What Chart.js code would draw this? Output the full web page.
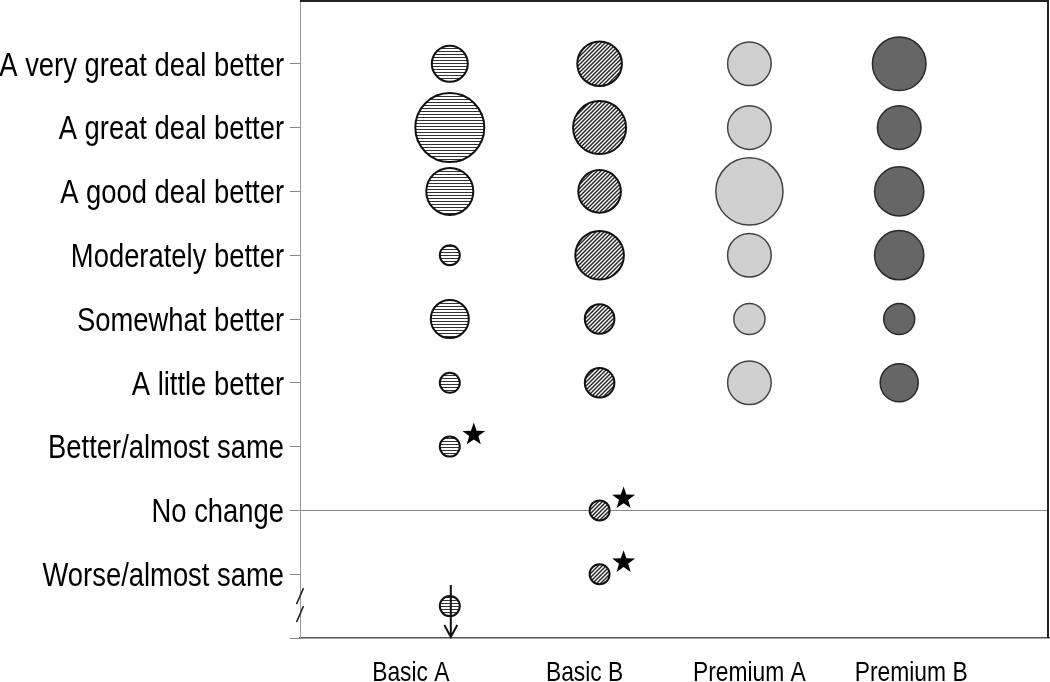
<!DOCTYPE html>
<html>
<head>
<meta charset="utf-8">
<script src="https://cdn.jsdelivr.net/npm/chart.js@4"></script>
<style>
  html, body { margin: 0; padding: 0; background: #fff; }
</style>
</head>
<body>
<canvas id="bubbleChart" width="1050" height="682"></canvas>
<script>
const products = ['Basic A', 'Basic B', 'Premium A', 'Premium B'];
const levels = [
  'A very great deal better',
  'A great deal better',
  'A good deal better',
  'Moderately better',
  'Somewhat better',
  'A little better',
  'Better/almost same',
  'No change',
  'Worse/almost same'
];

// bubble radius for each level, top to bottom (null = no bubble)
const basicA = [18, 34.5, 23.5, 10, 19, 10, 10, null, null];
const basicB = [22.3, 26.5, 21.3, 24.3, 14.8, 14.8, null, 10, 10];
const premiumA = [21.8, 21.8, 33.6, 21.8, 15.6, 21.8, null, null, null];
const premiumB = [26.8, 21.8, 24.6, 24.6, 15.5, 19, null, null, null];
// Basic A has one more bubble below the axis break
const basicABelowBreak = 10;
// [product, level] pairs that get a star
const starred = [[0, 6], [1, 7], [1, 8]];

// narrow sans: Liberation Sans squeezed horizontally (Arial Narrow look)
const FONT = '"Liberation Sans", Arial, sans-serif';
const NARROW = 0.83;
const xLabelAt = [0.74, 1.9, 3.0, 4.08];

const ctx = document.getElementById('bubbleChart').getContext('2d');

function hLines() {
  const c = document.createElement('canvas');
  c.width = 3; c.height = 3;
  const g = c.getContext('2d');
  g.fillStyle = '#fff'; g.fillRect(0, 0, 3, 3);
  g.fillStyle = '#333'; g.fillRect(0, 0, 3, 1);
  return ctx.createPattern(c, 'repeat');
}

function diagLines() {
  const c = document.createElement('canvas');
  c.width = 4; c.height = 4;
  const g = c.getContext('2d');
  g.fillStyle = '#fff'; g.fillRect(0, 0, 4, 4);
  g.strokeStyle = '#222'; g.lineWidth = 1.4;
  g.beginPath();
  g.moveTo(0, 4); g.lineTo(4, 0);
  g.moveTo(-1, 1); g.lineTo(1, -1);
  g.moveTo(3, 5); g.lineTo(5, 3);
  g.stroke();
  return ctx.createPattern(c, 'repeat');
}

function toPoints(sizes, i) {
  const pts = [];
  sizes.forEach((r, j) => { if (r != null) pts.push({ x: i + 1, y: j, r: r }); });
  return pts;
}

const pointsA = toPoints(basicA, 0);
pointsA.push({ x: 1, y: levels.length - 0.5, r: basicABelowBreak });

function drawStar(c, cx, cy, R, r) {
  c.beginPath();
  for (let k = 0; k < 10; k++) {
    const rad = k % 2 === 0 ? R : r;
    const ang = -Math.PI / 2 + k * Math.PI / 5;
    const px = cx + rad * Math.cos(ang), py = cy + rad * Math.sin(ang);
    if (k === 0) c.moveTo(px, py); else c.lineTo(px, py);
  }
  c.closePath();
  c.fillStyle = '#000';
  c.fill();
}

function narrowText(c, text, x, y, size, align) {
  c.save();
  c.translate(x, y);
  c.scale(NARROW, 1);
  c.font = size + 'px ' + FONT;
  c.textAlign = align;
  c.textBaseline = 'alphabetic';
  c.fillStyle = '#000';
  c.fillText(text, 0, 0);
  c.restore();
}

const extras = {
  id: 'extras',
  afterDatasetsDraw(chart) {
    const { ctx: c, chartArea: a, scales: { x, y } } = chart;
    c.save();
    // top and right frame
    c.strokeStyle = '#222';
    c.lineWidth = 2;
    c.beginPath();
    c.moveTo(a.left, a.top + 1);
    c.lineTo(a.right - 1, a.top + 1);
    c.lineTo(a.right - 1, a.bottom);
    c.stroke();

    // stars
    starred.forEach(([p, l]) => {
      drawStar(c, x.getPixelForValue(p + 1) + 24, y.getPixelForValue(l) - 12, 12, 4.8);
    });

    // down arrow through the off-scale bubble
    const ax = x.getPixelForValue(1) + 1;
    const ay = y.getPixelForValue(levels.length - 0.5);
    c.strokeStyle = '#111';
    c.lineWidth = 2;
    c.beginPath();
    c.moveTo(ax, ay - 21);
    c.lineTo(ax, a.bottom - 1);
    c.moveTo(ax - 6.5, a.bottom - 13);
    c.lineTo(ax, a.bottom - 1);
    c.lineTo(ax + 6.5, a.bottom - 13);
    c.stroke();

    // axis break marks
    c.lineWidth = 1.5;
    c.strokeStyle = '#222';
    c.beginPath();
    [-10, 8].forEach(dy => {
      c.moveTo(a.left + 3.5, ay + dy - 8);
      c.lineTo(a.left - 3.5, ay + dy + 8);
    });
    c.stroke();
    c.restore();
  },
  afterDraw(chart) {
    const { ctx: c, chartArea: a, scales: { x, y } } = chart;
    levels.forEach((l, i) => narrowText(c, l, a.left - 16, y.getPixelForValue(i) + 11.8, 33, 'right'));
    products.forEach((p, i) => narrowText(c, p, x.getPixelForValue(xLabelAt[i]), 681, 27.5, 'center'));
  }
};

new Chart(ctx, {
  type: 'bubble',
  data: {
    datasets: [
      { label: products[0], data: pointsA, backgroundColor: hLines(), borderColor: '#111', borderWidth: 2 },
      { label: products[1], data: toPoints(basicB, 1), backgroundColor: diagLines(), borderColor: '#111', borderWidth: 2 },
      { label: products[2], data: toPoints(premiumA, 2), backgroundColor: '#d0d0d0', borderColor: '#444', borderWidth: 1.5 },
      { label: products[3], data: toPoints(premiumB, 3), backgroundColor: '#666666', borderColor: '#2a2a2a', borderWidth: 1.5 }
    ]
  },
  options: {
    responsive: false,
    animation: false,
    layout: { autoPadding: false, padding: { top: 0, right: 1, left: 0, bottom: 0 } },
    plugins: { legend: { display: false }, tooltip: { enabled: false } },
    scales: {
      x: {
        min: 0,
        max: 5,
        afterFit: s => { s.height = 44; s.paddingLeft = 0; s.paddingRight = 0; },
        grid: { display: false, drawTicks: false },
        border: { color: '#555', width: 1.5 },
        ticks: { display: false }
      },
      y: {
        min: -1,
        max: levels.length,
        reverse: true,
        afterFit: s => { s.width = 300; s.paddingTop = 0; s.paddingBottom = 0; },
        afterBuildTicks: s => { s.ticks = levels.map((l, i) => ({ value: i })).concat([{ value: levels.length }]); },
        grid: {
          color: c => (c.tick && c.tick.value === 7 ? '#888' : 'rgba(0,0,0,0)'),
          tickColor: '#888',
          tickLength: 10,
          lineWidth: 1
        },
        border: { color: '#999', width: 1 },
        ticks: { display: false }
      }
    }
  },
  plugins: [extras]
});
</script>
</body>
</html>
